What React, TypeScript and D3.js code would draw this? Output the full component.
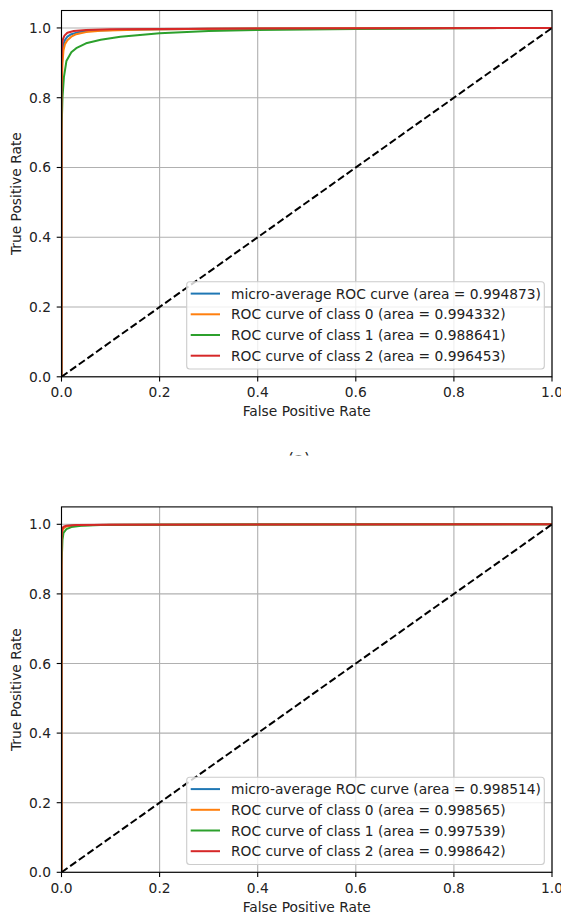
import React from "react";
import * as d3 from "d3";

// ---------- data ----------
const xTicks = [0, 0.2, 0.4, 0.6, 0.8, 1.0];
const yTicks = [0, 0.2, 0.4, 0.6, 0.8, 1.0];
const seriesNames = ["micro-average ROC curve", "ROC curve of class 0", "ROC curve of class 1", "ROC curve of class 2"];
const seriesColors = ["#1f77b4", "#ff7f0e", "#2ca02c", "#d62728"];

// Panel (a)
const areasA = [0.994873, 0.994332, 0.988641, 0.996453];
const microFprA = [0, 0, 0.002, 0.004, 0.007, 0.012, 0.02, 0.035, 0.06, 0.12, 0.3, 1];
const microTprA = [0, 0.85, 0.93, 0.952, 0.965, 0.975, 0.982, 0.988, 0.992, 0.995, 0.998, 1];
const class0FprA = [0, 0, 0.002, 0.004, 0.007, 0.012, 0.02, 0.03, 0.05, 0.08, 0.15, 0.3, 1];
const class0TprA = [0, 0.8, 0.9, 0.935, 0.953, 0.965, 0.975, 0.982, 0.988, 0.992, 0.995, 0.998, 1];
const class1FprA = [0, 0, 0.002, 0.005, 0.01, 0.02, 0.03, 0.05, 0.08, 0.12, 0.2, 0.3, 0.4, 0.6, 0.8, 1];
const class1TprA = [0, 0.7, 0.8, 0.86, 0.905, 0.93, 0.942, 0.956, 0.966, 0.975, 0.985, 0.991, 0.994, 0.997, 0.999, 1];
const class2FprA = [0, 0, 0.001, 0.003, 0.006, 0.012, 0.025, 0.05, 0.1, 0.3, 1];
const class2TprA = [0, 0.9, 0.95, 0.968, 0.978, 0.986, 0.991, 0.994, 0.996, 0.998, 1];

// Panel (b)
const areasB = [0.998514, 0.998565, 0.997539, 0.998642];
const microFprB = [0, 0, 0.002, 0.005, 0.01, 0.03, 0.1, 1];
const microTprB = [0, 0.94, 0.984, 0.991, 0.995, 0.997, 0.999, 1];
const class0FprB = [0, 0, 0.002, 0.005, 0.01, 0.03, 0.1, 1];
const class0TprB = [0, 0.93, 0.982, 0.99, 0.994, 0.997, 0.999, 1];
const class1FprB = [0, 0, 0.002, 0.004, 0.01, 0.02, 0.04, 0.08, 0.2, 1];
const class1TprB = [0, 0.88, 0.955, 0.975, 0.986, 0.992, 0.996, 0.998, 0.999, 1];
const class2FprB = [0, 0, 0.001, 0.004, 0.01, 0.03, 0.1, 1];
const class2TprB = [0, 0.95, 0.985, 0.993, 0.996, 0.998, 0.999, 1];

const curvesA = [
  [microFprA, microTprA],
  [class0FprA, class0TprA],
  [class1FprA, class1TprA],
  [class2FprA, class2TprA],
];
const curvesB = [
  [microFprB, microTprB],
  [class0FprB, class0TprB],
  [class1FprB, class1TprB],
  [class2FprB, class2TprB],
];

const FONT = "'DejaVu Sans', sans-serif";
const FS = 13.8;
const TXT = "#222";

type PanelProps = {
  id: string;
  curves: number[][][];
  areas: number[];
  top: number; // pixel y for value 1.05
  bottom: number; // pixel y for value 0
};

function Panel({ id, curves, areas, top, bottom }: PanelProps) {
  const left = 61.5;
  const right = 552;
  const x = d3.scaleLinear().domain([0, 1]).range([left, right]);
  const y = d3.scaleLinear().domain([0, 1.05]).range([bottom, top]);
  const line = d3
    .line<[number, number]>()
    .x((d) => x(d[0]))
    .y((d) => y(d[1]));

  const legendRight = right - 7.7;
  const legendLeft = 186.7;
  const legendBottom = bottom - 7.8;
  const legendTop = bottom - 95;
  const rowPitch = 20.7;
  const firstRow = legendTop + 11.8;

  return (
    <g>
      <defs>
        <clipPath id={`clip-${id}`}>
          <rect x={left} y={top} width={right - left} height={bottom - top} />
        </clipPath>
      </defs>
      {/* grid */}
      {xTicks.map((t) => (
        <line key={`gx${t}`} x1={x(t)} x2={x(t)} y1={top} y2={bottom} stroke="#b0b0b0" strokeWidth={1.1} />
      ))}
      {yTicks.map((t) => (
        <line key={`gy${t}`} x1={left} x2={right} y1={y(t)} y2={y(t)} stroke="#b0b0b0" strokeWidth={1.1} />
      ))}
      {/* curves */}
      <g clipPath={`url(#clip-${id})`}>
        {curves.map((c, i) => {
          const pts = c[0].map((f, k) => [f, c[1][k]] as [number, number]);
          return (
            <path key={i} d={line(pts) || ""} fill="none" stroke={seriesColors[i]} strokeWidth={2} strokeLinejoin="round" />
          );
        })}
        <path
          d={line([[0, 0], [1, 1]]) || ""}
          fill="none"
          stroke="#000"
          strokeWidth={2}
          strokeDasharray="7.4,3.2"
        />
      </g>
      {/* spines */}
      <rect x={left} y={top} width={right - left} height={bottom - top} fill="none" stroke="#000" strokeWidth={1.1} />
      {/* x ticks */}
      {xTicks.map((t) => (
        <g key={`xt${t}`}>
          <line x1={x(t)} x2={x(t)} y1={bottom} y2={bottom + 4.8} stroke="#000" strokeWidth={1.1} />
          <text x={x(t)} y={bottom + 20.4} textAnchor="middle" fontFamily={FONT} fontSize={FS} fill={TXT}>
            {t.toFixed(1)}
          </text>
        </g>
      ))}
      {/* y ticks */}
      {yTicks.map((t) => (
        <g key={`yt${t}`}>
          <line x1={left - 4.8} x2={left} y1={y(t)} y2={y(t)} stroke="#000" strokeWidth={1.1} />
          <text x={left - 10.5} y={y(t) + 5} textAnchor="end" fontFamily={FONT} fontSize={FS} fill={TXT}>
            {t.toFixed(1)}
          </text>
        </g>
      ))}
      {/* axis labels */}
      <text x={(left + right) / 2} y={bottom + 39.2} textAnchor="middle" fontFamily={FONT} fontSize={FS} fill={TXT}>
        False Positive Rate
      </text>
      <text
        transform={`translate(21,${(top + bottom) / 2}) rotate(-90)`}
        textAnchor="middle"
        fontFamily={FONT}
        fontSize={FS}
        fill={TXT}
      >
        True Positive Rate
      </text>
      {/* legend */}
      <rect
        x={legendLeft}
        y={legendTop}
        width={legendRight - legendLeft}
        height={legendBottom - legendTop}
        rx={3}
        ry={3}
        fill="#fff"
        fillOpacity={0.8}
        stroke="#cccccc"
        strokeWidth={1.1}
      />
      {seriesNames.map((name, i) => {
        const cy = firstRow + i * rowPitch;
        return (
          <g key={`lg${i}`}>
            <line x1={190.7} x2={220} y1={cy} y2={cy} stroke={seriesColors[i]} strokeWidth={2} />
            <text x={231} y={cy + 5} fontFamily={FONT} fontSize={FS} fill={TXT}>
              {`${name} (area = ${areas[i].toFixed(6)})`}
            </text>
          </g>
        );
      })}
    </g>
  );
}

export default function App() {
  return (
    <svg
      width={561}
      height={913}
      style={{ position: "absolute", left: 0, top: 0, background: "#fff" }}
    >
      <rect x={0} y={0} width={561} height={913} fill="#fff" />
      <Panel id="a" curves={curvesA} areas={areasA} top={10.5} bottom={376.8} />
      <defs>
        <clipPath id="cap-clip">
          <rect x={0} y={0} width={561} height={455.5} />
        </clipPath>
      </defs>
      <text
        x={299}
        y={464}
        textAnchor="middle"
        fontFamily={FONT}
        fontSize={16}
        fill={TXT}
        clipPath="url(#cap-clip)"
      >
        (a)
      </text>
      <Panel id="b" curves={curvesB} areas={areasB} top={506.9} bottom={872.3} />
    </svg>
  );
}
